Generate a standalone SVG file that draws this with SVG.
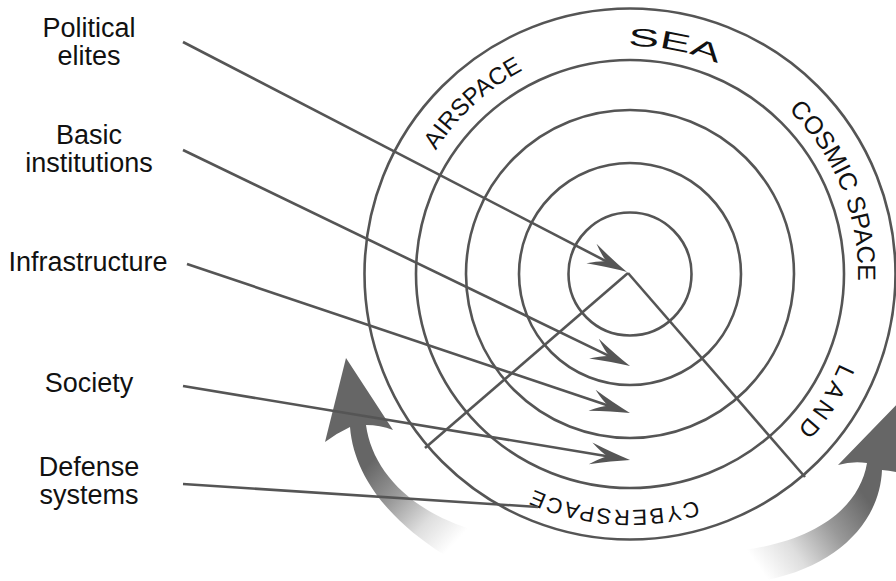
<svg xmlns="http://www.w3.org/2000/svg" width="896" height="581" viewBox="0 0 896 581">
<style>
.lbl{font-family:"Liberation Sans",Arial,sans-serif;font-size:27px;fill:#111;text-anchor:middle}
.ring{fill:none;stroke:#555;stroke-width:2.6}
.con{fill:none;stroke:#555;stroke-width:2.6}
.rt{font-family:"Liberation Sans",Arial,sans-serif;font-size:24px;fill:#111}
</style>
<defs>
<marker id="ah" markerUnits="userSpaceOnUse" orient="auto" refX="0" refY="0" markerWidth="60" markerHeight="40" overflow="visible">
<path d="M20 0 Q2 -4 -20 -11 Q-10 -3 -3 0 Q-10 3 -20 11 Q2 4 20 0 Z" fill="#555"/>
</marker>
<linearGradient id="gl" gradientUnits="userSpaceOnUse" x1="365" y1="468" x2="450" y2="548">
<stop offset="0" stop-color="#666666"/>
<stop offset="0.35" stop-color="#999999"/>
<stop offset="0.7" stop-color="#dedede"/>
<stop offset="1" stop-color="#ffffff"/>
</linearGradient>
<linearGradient id="gr" gradientUnits="userSpaceOnUse" x1="862" y1="492" x2="758" y2="566">
<stop offset="0" stop-color="#666666"/>
<stop offset="0.35" stop-color="#999999"/>
<stop offset="0.7" stop-color="#dedede"/>
<stop offset="1" stop-color="#ffffff"/>
</linearGradient>
<path id="pAir" d="M436.0,150.4 A230,230 0 0 1 745,74.8"/>
<path id="pSea" d="M628,46 A228,228 0 0 1 804.6,127.4"/>
<path id="pCos" d="M788.4,110 A228,228 0 0 1 844.3,352"/>
<path id="pLand" d="M839.9,363.1 A228,228 0 0 1 708,488.3"/>
<path id="pCyb" d="M697,500.3 A236,236 0 0 1 449.2,425.7"/>
</defs>
<rect width="896" height="581" fill="#fff"/>
<g id="cycle-arrows">
<path d="M346 358 L393 430 Q380 425 366 425 C372 470 410 512 477 531 L443 554 C392 522 354 478 350 427 Q337 433 325 442 Z" fill="url(#gl)"/>
<path d="M838 465 L908 393 L915 478 Q898 471 882 470 C880 520 840 565 767 580 L743 550 C820 540 860 505 867 463 Q852 461 838 465 Z" fill="url(#gr)"/>
</g>
<g id="rings">
<circle class="ring" cx="630" cy="274" r="265.5"/>
<circle class="ring" cx="630" cy="274" r="214"/>
<circle class="ring" cx="630" cy="274" r="164"/>
<circle class="ring" cx="630" cy="274" r="111"/>
<circle class="ring" cx="630" cy="274" r="61.5"/>
</g>
<g id="ring-labels">
<text class="rt"><textPath href="#pAir">AIRSPACE</textPath></text>
<text class="rt" style="font-size:25px"><textPath href="#pSea" textLength="92" lengthAdjust="spacingAndGlyphs">SEA</textPath></text>
<text class="rt" style="font-size:25px"><textPath href="#pCos">COSMIC SPACE</textPath></text>
<text class="rt" letter-spacing="5"><textPath href="#pLand">LAND</textPath></text>
<text class="rt" style="font-size:22px" letter-spacing="2"><textPath href="#pCyb">CYBERSPACE</textPath></text>
</g>
<g id="connectors">
<line class="con" x1="628" y1="273" x2="425" y2="448"/>
<line class="con" x1="628" y1="273" x2="805" y2="477"/>
<line class="con" x1="183" y1="42" x2="609.2" y2="262.8" marker-end="url(#ah)"/>
<line class="con" x1="183" y1="150" x2="612" y2="357.3" marker-end="url(#ah)"/>
<line class="con" x1="187" y1="264" x2="611" y2="406.6" marker-end="url(#ah)"/>
<line class="con" x1="183" y1="386" x2="610.3" y2="456.7" marker-end="url(#ah)"/>
<line class="con" x1="183" y1="484" x2="538" y2="507"/>
</g>
<g id="political-elites"><text class="lbl" x="89" y="37">Political</text><text class="lbl" x="89" y="65">elites</text></g>
<g id="basic-institutions"><text class="lbl" x="89" y="144">Basic</text><text class="lbl" x="89" y="172">institutions</text></g>
<g id="infrastructure"><text class="lbl" x="88" y="271">Infrastructure</text></g>
<g id="society"><text class="lbl" x="89" y="392">Society</text></g>
<g id="defense-systems"><text class="lbl" x="89" y="476">Defense</text><text class="lbl" x="89" y="504">systems</text></g>
</svg>
